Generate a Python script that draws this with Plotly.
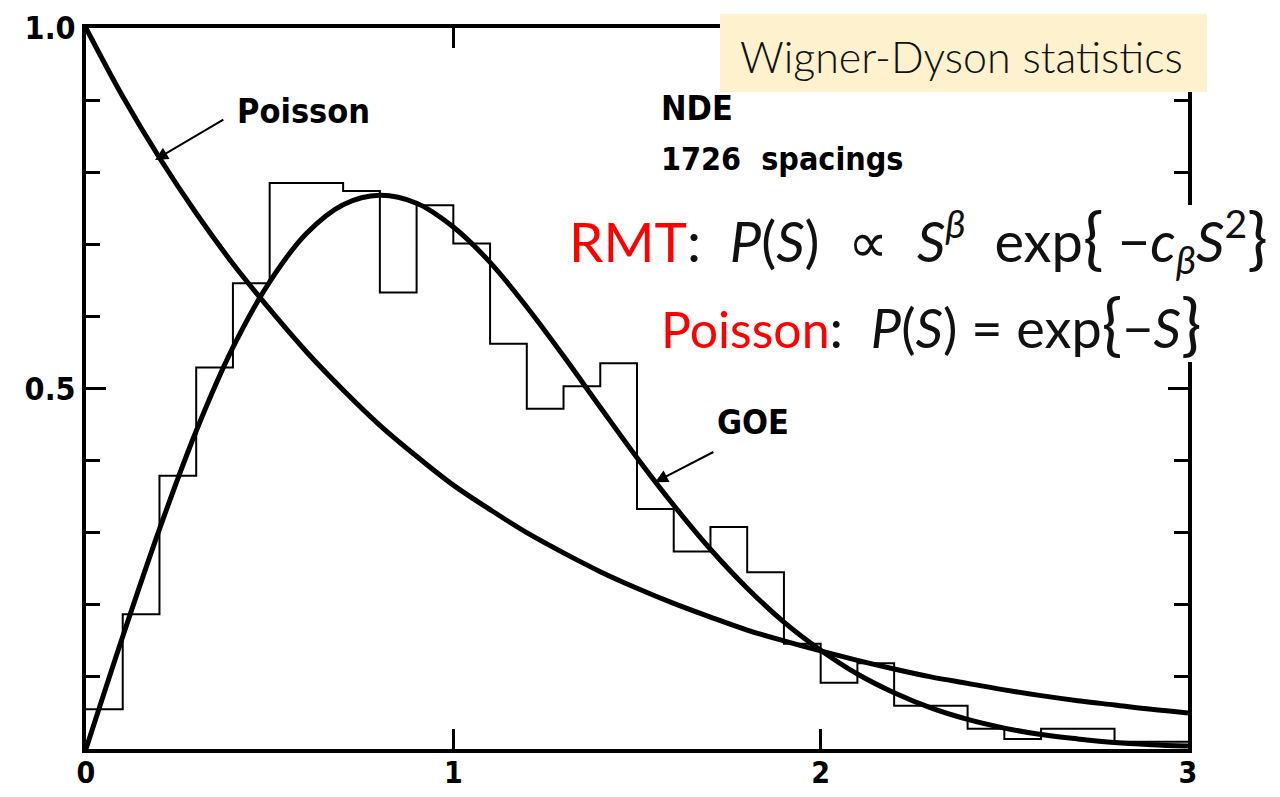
import plotly.graph_objects as go

# Nearest-neighbour spacing histogram (bin width 0.1), heights per bin
bin_left = [0.0, 0.1, 0.2, 0.3, 0.4, 0.5, 0.6, 0.7, 0.8, 0.9,
            1.0, 1.1, 1.2, 1.3, 1.4, 1.5, 1.6, 1.7, 1.8, 1.9,
            2.0, 2.1, 2.2, 2.3, 2.4, 2.5, 2.6, 2.7, 2.8, 2.9, 3.0]
hist_height = [0.055, 0.187, 0.379, 0.529, 0.646, 0.785, 0.785, 0.774, 0.633, 0.754,
               0.701, 0.562, 0.472, 0.503, 0.535, 0.333, 0.274, 0.308, 0.245, 0.146,
               0.092, 0.119, 0.060, 0.060, 0.028, 0.014, 0.028, 0.028, 0.010, 0.010]

# Theory curves sampled along S
s_grid = [0.0, 0.1, 0.2, 0.3, 0.4, 0.5, 0.6, 0.7, 0.8, 0.9,
          1.0, 1.1, 1.2, 1.3, 1.4, 1.5, 1.6, 1.7, 1.8, 1.9,
          2.0, 2.1, 2.2, 2.3, 2.4, 2.5, 2.6, 2.7, 2.8, 2.9, 3.0]
poisson_curve = [1.000, 0.905, 0.820, 0.743, 0.673, 0.610, 0.551, 0.498, 0.449, 0.406,
                 0.366, 0.332, 0.300, 0.272, 0.246, 0.223, 0.202, 0.183, 0.165, 0.150,
                 0.136, 0.123, 0.111, 0.100, 0.091, 0.082, 0.074, 0.067, 0.061, 0.055,
                 0.050]
goe_curve = [0.000, 0.156, 0.305, 0.441, 0.557, 0.648, 0.715, 0.755, 0.768, 0.757,
             0.724, 0.675, 0.613, 0.545, 0.474, 0.404, 0.338, 0.277, 0.223, 0.176,
             0.137, 0.104, 0.078, 0.057, 0.041, 0.029, 0.020, 0.014, 0.009, 0.006,
             0.004]

x_tick_vals = [0, 1, 2, 3]
x_tick_text = ["0", "1", "2", "3"]
y_tick_vals = [0.5, 1.0]
y_tick_text = ["0.5", "1.0"]

BOLD_FONT = "DejaVu Sans Condensed, Liberation Sans Narrow, DejaVu Sans"
SLIDE_FONT = "Lato, Open Sans, sans-serif"

fig = go.Figure()

fig.add_trace(go.Scatter(
    x=bin_left, y=hist_height + [hist_height[-1]],
    mode="lines", line=dict(color="black", width=2, shape="hv"),
    hoverinfo="skip", showlegend=False,
))
fig.add_trace(go.Scatter(
    x=s_grid, y=poisson_curve, mode="lines",
    line=dict(color="black", width=5, shape="spline"),
    showlegend=False,
))
fig.add_trace(go.Scatter(
    x=s_grid, y=goe_curve, mode="lines",
    line=dict(color="black", width=5, shape="spline"),
    showlegend=False,
))

fig.update_xaxes(
    range=[0, 3], tickvals=x_tick_vals, ticktext=x_tick_text,
    ticks="inside", ticklen=20, tickwidth=3, tickcolor="black",
    ticklabelstandoff=-6, automargin=False,
    showline=True, linewidth=4, linecolor="black", mirror="ticks",
    showgrid=False, zeroline=False,
    tickfont=dict(family=BOLD_FONT, size=30, color="black", weight="bold"),
)
fig.update_yaxes(
    range=[0, 1], tickvals=y_tick_vals, ticktext=y_tick_text,
    ticks="inside", ticklen=20, tickwidth=3, tickcolor="black",
    automargin=False,
    minor=dict(dtick=0.1, ticks="inside", ticklen=14, tickwidth=3,
               tickcolor="black", showgrid=False),
    showline=True, linewidth=4, linecolor="black", mirror="ticks",
    showgrid=False, zeroline=False,
    tickfont=dict(family=BOLD_FONT, size=32, color="black", weight="bold"),
)

# Boxes behind the slide captions (above axes)
fig.add_shape(type="rect", xref="paper", yref="paper",
              x0=0.5753, x1=1.0172, y0=0.9112, y1=1.0194,
              fillcolor="#FDF2CD", line=dict(width=0), layer="above")
fig.add_shape(type="rect", xref="paper", yref="paper",
              x0=0.4301, x1=1.0835, y0=0.6366, y1=0.7545,
              fillcolor="white", line=dict(width=0), layer="above")
fig.add_shape(type="rect", xref="paper", yref="paper",
              x0=0.5118, x1=1.0835, y0=0.5367, y1=0.6366,
              fillcolor="white", line=dict(width=0), layer="above")

label_font = dict(family=BOLD_FONT, size=34, color="black", weight="bold")
ann = []
ann.append(dict(x=0.406, y=0.885, xref="x", yref="y", text="Poisson",
                showarrow=False, xanchor="left", yanchor="middle", font=label_font))
ann.append(dict(x=0.188, y=0.817, ax=0.378, ay=0.874, xref="x", yref="y",
                axref="x", ayref="y", text="", showarrow=True,
                arrowhead=2, arrowsize=1.3, arrowwidth=2, arrowcolor="black"))
ann.append(dict(x=1.560, y=0.889, xref="x", yref="y", text="NDE",
                showarrow=False, xanchor="left", yanchor="middle", font=label_font))
ann.append(dict(x=1.560, y=0.818, xref="x", yref="y", text="1726\u00a0\u00a0spacings",
                showarrow=False, xanchor="left", yanchor="middle",
                font=dict(family=BOLD_FONT, size=32, color="black", weight="bold")))
ann.append(dict(x=1.712, y=0.4535, xref="x", yref="y", text="GOE",
                showarrow=False, xanchor="left", yanchor="middle", font=label_font))
ann.append(dict(x=1.549, y=0.370, ax=1.712, ay=0.413, xref="x", yref="y",
                axref="x", ayref="y", text="", showarrow=True,
                arrowhead=2, arrowsize=1.3, arrowwidth=2, arrowcolor="black"))

ann.append(dict(x=0.7945, y=0.9600, xref="paper", yref="paper",
                text="Wigner-Dyson statistics", showarrow=False,
                xanchor="center", yanchor="middle",
                font=dict(family=SLIDE_FONT, size=43, color="#111111", weight=300)))

NB = "\u00a0"
BIG = '<span style="font-size:68px">{}</span>'
rmt = ('<span style="color:#FF0000;font-size:55px">RMT</span>:' + NB * 2 +
       '<i>P</i>(<i>S</i>)' + NB * 2 + '\u221d' + NB * 2 +
       '<i>S</i><sup><i>\u03b2</i></sup>' + NB * 2 + 'exp' + BIG.format('{') + NB +
       '\u2212<i>c</i><sub><i>\u03b2</i></sub><i>S</i><sup>2</sup>' + BIG.format('}'))
ann.append(dict(x=0.4365, y=0.7087, xref="paper", yref="paper", text=rmt,
                showarrow=False, xanchor="left", yanchor="middle",
                font=dict(family=SLIDE_FONT, size=56, color="#111111")))
poi = ('<span style="color:#FF0000;font-size:50px">Poisson</span>:' + NB * 2 +
       '<i>P</i>(<i>S</i>)' + NB + '=' + NB + 'exp' + BIG.format('{') +
       '\u2212<i>S</i>' + BIG.format('}'))
ann.append(dict(x=0.5200, y=0.5936, xref="paper", yref="paper", text=poi,
                showarrow=False, xanchor="left", yanchor="middle",
                font=dict(family=SLIDE_FONT, size=54, color="#111111")))

fig.update_layout(
    width=1280, height=797,
    margin=dict(l=86, r=92, t=28, b=48, autoexpand=False),
    paper_bgcolor="white", plot_bgcolor="white",
    annotations=ann, showlegend=False,
)

fig.write_html("out.html")
